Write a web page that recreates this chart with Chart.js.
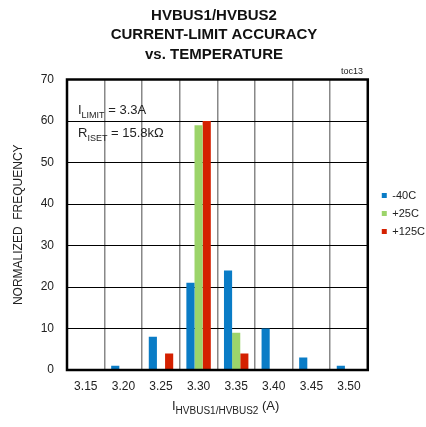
<!DOCTYPE html>
<html>
<head>
<meta charset="utf-8">
<script src="https://cdn.jsdelivr.net/npm/chart.js@4/dist/chart.umd.min.js"></script>
<style>
  html, body { margin: 0; padding: 0; background: #fff; }
  #wrap { width: 426px; height: 427px; }
</style>
</head>
<body>
<div id="wrap"><canvas id="myChart" width="426" height="427"></canvas></div>
<script>
// Datos
const categories = ['3.15', '3.20', '3.25', '3.30', '3.35', '3.40', '3.45', '3.50'];
const minus40 = [0, 1, 8, 21, 24, 10, 3, 1];
const plus25 = [0, 0, 0, 59, 9, 0, 0, 0];
const plus125 = [0, 0, 4, 60, 4, 0, 0, 0];
const seriesNames = ['-40C', '+25C', '+125C'];
const yTicks = [0, 10, 20, 30, 40, 50, 60, 70];
const titleLines = ['HVBUS1/HVBUS2', 'CURRENT-LIMIT ACCURACY', 'vs. TEMPERATURE'];

const FONT = '"Liberation Sans Narrow", "Liberation Sans", Arial, sans-serif';
const ctx = document.getElementById('myChart');

// Mueve la leyenda un poco a la derecha, como en el original
const moveLegend = {
    id: 'moveLegend',
    afterLayout(chart) {
        const lg = chart.legend;
        const dx = chart.chartArea.right + 7 - lg.left;
        lg.left += dx;
        lg.right += dx;
    }
};

// Dibuja el marco, las anotaciones y el titulo del eje x
const extras = {
    id: 'extras',
    afterDraw(chart) {
        const c = chart.ctx;
        const a = chart.chartArea;
        c.save();
        c.strokeStyle = '#000';
        c.lineWidth = 2.5;
        c.strokeRect(a.left, a.top, a.right - a.left, a.bottom - a.top);

        c.fillStyle = '#222';
        c.textBaseline = 'alphabetic';
        // "toc13"
        c.font = '9px ' + FONT;
        c.textAlign = 'right';
        c.fillText('toc13', 363, 74);
        c.textAlign = 'left';

        // texto con subindice
        const sub = (x, y, main, s, rest, big, small) => {
            c.font = big + 'px ' + FONT;
            c.fillText(main, x, y);
            x += c.measureText(main).width;
            c.font = small + 'px ' + FONT;
            c.fillText(s, x, y + 4);
            x += c.measureText(s).width;
            c.font = big + 'px ' + FONT;
            c.fillText(rest, x, y);
        };
        sub(78, 114, 'I', 'LIMIT', ' = 3.3A', 13, 9);
        sub(78, 137, 'R', 'ISET', ' = 15.8k\u03A9', 13, 9);
        sub(172, 410, 'I', 'HVBUS1/HVBUS2', ' (A)', 13, 10);
        c.restore();
    }
};

const myChart = new Chart(ctx, {
    type: 'bar',
    data: {
        labels: categories,
        datasets: [
            { label: seriesNames[0], data: minus40, backgroundColor: '#0A7CC6' },
            { label: seriesNames[1], data: plus25, backgroundColor: '#9CD46A' },
            { label: seriesNames[2], data: plus125, backgroundColor: '#D42000' }
        ]
    },
    options: {
        responsive: false,
        animation: false,
        layout: { padding: { left: 0, right: -2, top: 0, bottom: 0 } },
        datasets: {
            bar: { categoryPercentage: 0.65, barPercentage: 1.0 }
        },
        plugins: {
            title: {
                display: true,
                text: titleLines,
                color: '#111',
                font: { family: FONT, size: 15, weight: 'bold', lineHeight: 1.3 },
                padding: { top: 6, bottom: 15 }
            },
            legend: {
                position: 'right',
                labels: {
                    boxWidth: 5,
                    boxHeight: 5,
                    padding: 7,
                    color: '#222',
                    font: { family: FONT, size: 11 }
                }
            },
            tooltip: { enabled: false }
        },
        scales: {
            x: {
                offset: true,
                grid: { offset: true, color: '#888', lineWidth: 1.5, drawTicks: false },
                border: { display: false },
                ticks: { color: '#222', padding: 9, font: { family: FONT, size: 12 } },
                afterFit: (s) => { s.height = 57; }
            },
            y: {
                min: 0,
                max: 70,
                afterBuildTicks: (s) => { s.ticks = yTicks.map(v => ({ value: v })); },
                grid: { color: '#000', lineWidth: 1, drawTicks: false },
                border: { display: false },
                ticks: { color: '#222', padding: 13, font: { family: FONT, size: 12 } },
                title: {
                    display: true,
                    text: 'NORMALIZED  FREQUENCY',
                    color: '#222',
                    font: { family: FONT, size: 12 },
                    padding: { top: 11, bottom: 0 }
                },
                afterFit: (s) => { s.width = 67; }
            }
        }
    },
    plugins: [moveLegend, extras]
});
</script>
</body>
</html>
